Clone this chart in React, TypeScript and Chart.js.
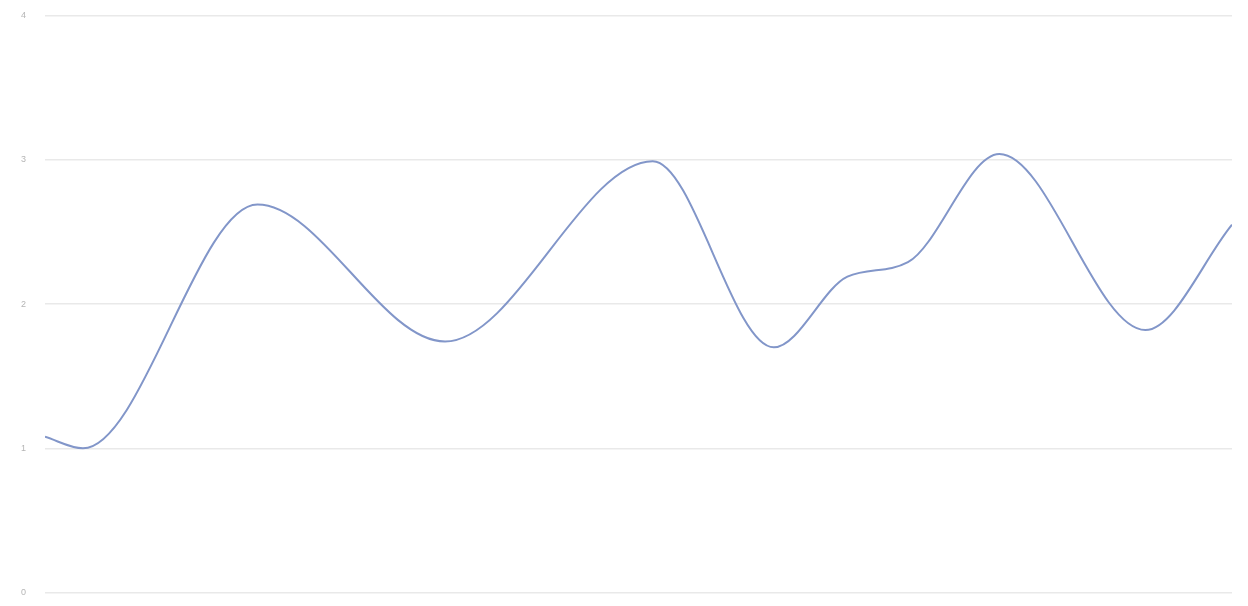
import React, { useEffect, useRef } from "react";
import { Chart, registerables } from "chart.js";

Chart.register(...registerables);

// x positions (relative time, 0..100) and values
const xPositions: number[] = [0, 3.2, 17.9, 33.7, 51.2, 61.4, 67.6, 72.7, 80.4, 92.7, 100];
const values: number[] = [1.08, 1.0, 2.69, 1.74, 2.99, 1.7, 2.19, 2.29, 3.04, 1.82, 2.55];
const yTicks: number[] = [0, 1, 2, 3, 4];

export default function App() {
  const ref = useRef<HTMLCanvasElement | null>(null);

  useEffect(() => {
    if (!ref.current) return;
    const points = xPositions.map((x, i) => ({ x, y: values[i] }));
    const chart = new Chart(ref.current, {
      type: "line",
      data: {
        datasets: [
          {
            data: points,
            borderColor: "#8296c9",
            borderWidth: 2,
            pointRadius: 0,
            fill: false,
            cubicInterpolationMode: "monotone",
          },
        ],
      },
      options: {
        animation: false,
        responsive: true,
        maintainAspectRatio: false,
        layout: { padding: { top: 7.5, right: 8, bottom: 0, left: 13 } },
        plugins: { legend: { display: false }, tooltip: { enabled: false } },
        scales: {
          x: { type: "linear", min: 0, max: 100, display: false },
          y: {
            min: 0,
            max: 4,
            afterBuildTicks: (s: any) => {
              s.ticks = yTicks.map((v) => ({ value: v }));
            },
            afterFit: (s: any) => {
              s.width = 24;
            },
            border: { display: false },
            grid: { color: "#e9e9e9", lineWidth: 1.5, drawTicks: false },
            ticks: {
              color: "#b5b5b5",
              padding: 0,
              crossAlign: "far",
              font: { size: 9, family: "Arial, Liberation Sans, sans-serif" },
            },
          },
        },
      },
    });
    return () => chart.destroy();
  }, []);

  return (
    <div style={{ width: 1232, height: 590 }}>
      <canvas ref={ref} />
    </div>
  );
}
